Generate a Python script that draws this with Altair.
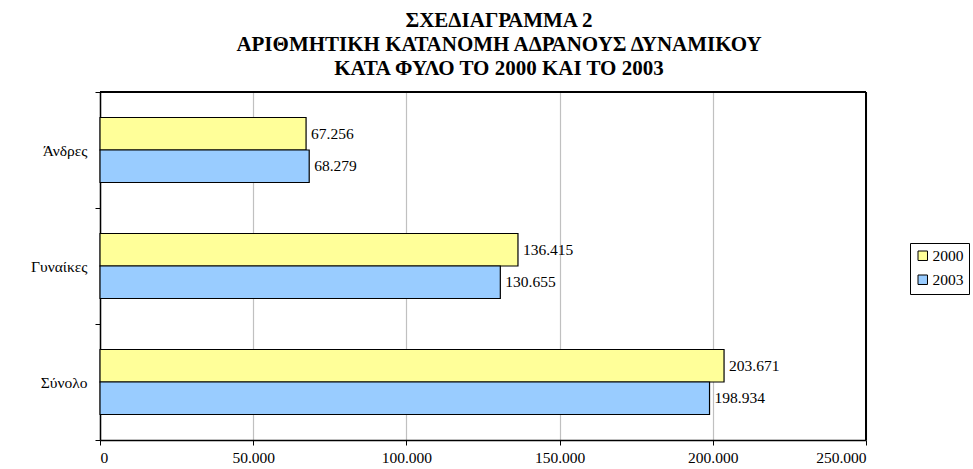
import altair as alt
import pandas as pd

categories = ["Άνδρες", "Γυναίκες", "Σύνολο"]
years = ["2000", "2003"]
values_2000 = [67256, 136415, 203671]
values_2003 = [68279, 130655, 198934]
x_ticks = [0, 50000, 100000, 150000, 200000, 250000]
colors = ["#FFFF99", "#99CCFF"]

rows = []
for c, v0, v3 in zip(categories, values_2000, values_2003):
    for y, v in (("2000", v0), ("2003", v3)):
        rows.append({"cat": c, "year": y, "value": v,
                     "label": f"{v:,}".replace(",", ".")})
df = pd.DataFrame(rows)

FONT = "Liberation Serif"
FS = 15.5

y_enc = alt.Y("cat:N", sort=categories, title=None,
              scale=alt.Scale(paddingInner=0, paddingOuter=0),
              axis=alt.Axis(tickBand="extent", labelFont=FONT, labelFontSize=FS,
                            labelColor="black", labelPadding=8, tickSize=5,
                            tickColor="black", domainColor="black", domainWidth=1.5,
                            grid=False))
yoff = alt.YOffset("year:N", sort=years,
                   scale=alt.Scale(paddingInner=0, paddingOuter=0.785))

base = alt.Chart(df)

bars = base.mark_bar(stroke="black", strokeWidth=1.2).encode(
    x=alt.X("value:Q", title=None,
            scale=alt.Scale(domain=[0, 250000], nice=False),
            axis=alt.Axis(values=x_ticks,
                          labelExpr="datum.value == 0 ? '0' : format(datum.value/1000, 'd') + '.000'",
                          labelFont=FONT, labelFontSize=FS, labelColor="black",
                          labelPadding=5, tickSize=5, tickColor="black",
                          domainColor="black", domainWidth=1.5,
                          grid=True, gridColor="#C0C0C0", gridWidth=1.2)),
    y=y_enc,
    yOffset=yoff,
    fill=alt.Fill("year:N", sort=years,
                  scale=alt.Scale(domain=years, range=colors),
                  legend=alt.Legend(title=None, orient="none", legendX=810, legendY=151,
                                    symbolType="square", symbolSize=90,
                                    symbolStrokeColor="black", symbolStrokeWidth=1,
                                    labelFont=FONT, labelFontSize=FS, labelColor="black",
                                    strokeColor="black", fillColor="white",
                                    padding=5, rowPadding=7, labelOffset=2)),
)

labels = base.mark_text(align="left", baseline="middle", dx=5, font=FONT,
                        fontSize=FS, color="black").encode(
    x="value:Q",
    y=alt.Y("cat:N", sort=categories),
    yOffset=alt.YOffset("year:N", sort=years),
    text="label:N",
)

frame = alt.Chart(df).mark_rule(color="black", strokeWidth=1.5).encode(
    x=alt.value(766), y=alt.value(0), y2=alt.value(348))
top = alt.Chart(df).mark_rule(color="black", strokeWidth=1.5).encode(
    x=alt.value(0), x2=alt.value(766), y=alt.value(0))

chart = (bars + labels + frame + top).properties(
    width=766, height=348,
    title=alt.TitleParams(
        text=["ΣΧΕΔΙΑΓΡΑΜΜΑ 2",
              "ΑΡΙΘΜΗΤΙΚΗ ΚΑΤΑΝΟΜΗ ΑΔΡΑΝΟΥΣ ΔΥΝΑΜΙΚΟΥ",
              "ΚΑΤΑ ΦΥΛΟ ΤΟ 2000 ΚΑΙ ΤΟ 2003"],
        font=FONT, fontSize=21, fontWeight="bold", color="black",
        anchor="middle", lineHeight=24, offset=6, dx=16),
    autosize=alt.AutoSizeParams(type="none"),
    padding={"left": 100, "top": 92, "right": 107, "bottom": 29},
).configure_view(stroke="black", strokeWidth=1.5).configure(background="white")

chart.save("out.html", embed_options={"renderer": "svg", "actions": False})
